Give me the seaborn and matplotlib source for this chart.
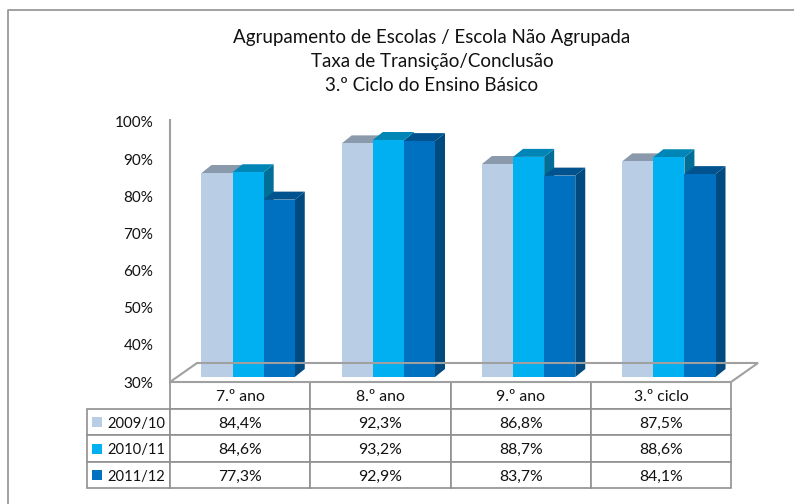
import matplotlib
matplotlib.use("Agg")
import matplotlib.pyplot as plt
import pandas as pd
import seaborn as sns
from matplotlib.lines import Line2D
from matplotlib.patches import Polygon, Rectangle
from matplotlib.transforms import Affine2D

categories = ["7.º ano", "8.º ano", "9.º ano", "3.º ciclo"]
years = ["2009/10", "2010/11", "2011/12"]
values_0910 = [84.4, 92.3, 86.8, 87.5]
values_1011 = [84.6, 93.2, 88.7, 88.6]
values_1112 = [77.3, 92.9, 83.7, 84.1]
y_ticks = [30, 40, 50, 60, 70, 80, 90, 100]
title = "Agrupamento de Escolas / Escola Não Agrupada\nTaxa de Transição/Conclusão\n3.º Ciclo do Ensino Básico"

colors = ["#B9CDE5", "#00B0F0", "#0070C0"]
top_colors = ["#8A99AC", "#0086B6", "#00538F"]
side_colors = ["#8A99AC", "#006E96", "#004A7F"]
grey = "#A0A0A0"

df = pd.DataFrame({"categoria": categories, years[0]: values_0910, years[1]: values_1011, years[2]: values_1112})
long_df = df.melt(id_vars="categoria", var_name="ano", value_name="taxa")

sns.set_style("white")
plt.rcParams["font.family"] = ["Lato", "DejaVu Sans"]
W, H = 794, 504
fig = plt.figure(figsize=(W / 100, H / 100), dpi=100)


def axes_px(left, top, right, bottom):
    return fig.add_axes([left / W, 1 - bottom / H, (right - left) / W, (bottom - top) / H])


# chart frame, only left and top are inside the crop
fig.add_artist(Line2D([8 / W, 8 / W, 1], [0, 1 - 10 / H, 1 - 10 / H], transform=fig.transFigure, color="#9A9A9A", lw=1.3))

fig.text(432 / W, 1 - 61.5 / H, title, ha="center", va="center", fontsize=13.5, linespacing=1.53, color="#111111")

# axis with the tick labels
ax_axis = axes_px(170, 122, 731, 382)
ax_axis.set_ylim(30, 100)
ax_axis.set_xlim(0, 1)
ax_axis.set_yticks(y_ticks)
ax_axis.set_yticklabels([f"{t}%" for t in y_ticks], fontsize=11, color="#111111")
ax_axis.tick_params(axis="y", length=0, pad=12)
ax_axis.set_xticks([])
ax_axis.patch.set_alpha(0)
sns.despine(ax=ax_axis, top=True, right=True, bottom=True)
ax_axis.spines["left"].set_color(grey)
ax_axis.spines["left"].set_linewidth(1.5)
ax_axis.spines["left"].set_bounds(30, 100.5)

# floor of the 3d box
floor = Polygon([(170, H - 382), (197, H - 363), (758, H - 363), (731, H - 382)], closed=True, transform=None, fill=False, ec=grey, lw=1.5)
fig.add_artist(floor)

# bars, on their own axes because the 3d front plane sits above the floor edge
ax = axes_px(178, 114.5, 739, 377)
sns.barplot(data=long_df, x="categoria", y="taxa", hue="ano", hue_order=years, palette=colors, width=0.665, gap=0, saturation=1, legend=False, linewidth=0, edgecolor="none", ax=ax)
ax.set_ylim(30, 100)
ax.axis("off")
ax.patch.set_alpha(0)

# side and top faces for each bar
dx, dy = 10, 8
for i, container in enumerate(ax.containers):
    for bar in container:
        x0, y0 = ax.transData.transform((bar.get_x(), 30))
        x1, y1 = ax.transData.transform((bar.get_x() + bar.get_width(), bar.get_height()))
        side = Polygon([(x1, y0), (x1 + dx, y0 + dy), (x1 + dx, y1 + dy), (x1, y1)], transform=None, fc=side_colors[i], ec="none", zorder=1.5 + 0.1 * i)
        top = Polygon([(x0, y1), (x0 + dx, y1 + dy), (x1 + dx, y1 + dy), (x1, y1)], transform=None, fc=top_colors[i], ec="none", zorder=1.5 + 0.1 * i)
        ax.add_artist(side)
        ax.add_artist(top)
        bar.set_zorder(3)

# data table
ax_tab = axes_px(87, 382, 731, 488)
ax_tab.axis("off")
cell_text = [[""] + categories]
for year, row in zip(years, [values_0910, values_1011, values_1112]):
    cell_text.append([year] + [f"{v:.1f}%".replace(".", ",") for v in row])
first = 83 / 644
other = (1 - first) / 4
tab = ax_tab.table(cellText=cell_text, colWidths=[first] + [other] * 4, bbox=[0, 0, 1, 1], cellLoc="center")
tab.auto_set_font_size(False)
tab.set_fontsize(11.3)
for (r, c), cell in tab.get_celld().items():
    cell.set_edgecolor("#909090")
    cell.set_linewidth(1.2)
    cell.get_text().set_color("#111111")
    # cell text is placed in pixels, nudge it down a little
    cell.get_text().set_transform(Affine2D().translate(0, -2))
    if c == 0 and r > 0:
        cell.PAD = 0.24
        cell.set_text_props(ha="left", fontsize=10.6)
        cell._loc = "left"
tab[(0, 0)].visible_edges = ""

# legend keys in the first table column
for i, color in enumerate(colors):
    yc = 422 + i * 26.6
    fig.add_artist(Rectangle((92 / W, 1 - (yc + 5) / H), 10 / W, 10 / H, transform=fig.transFigure, fc=color, ec="none"))

fig.savefig("out.png", dpi=100)
